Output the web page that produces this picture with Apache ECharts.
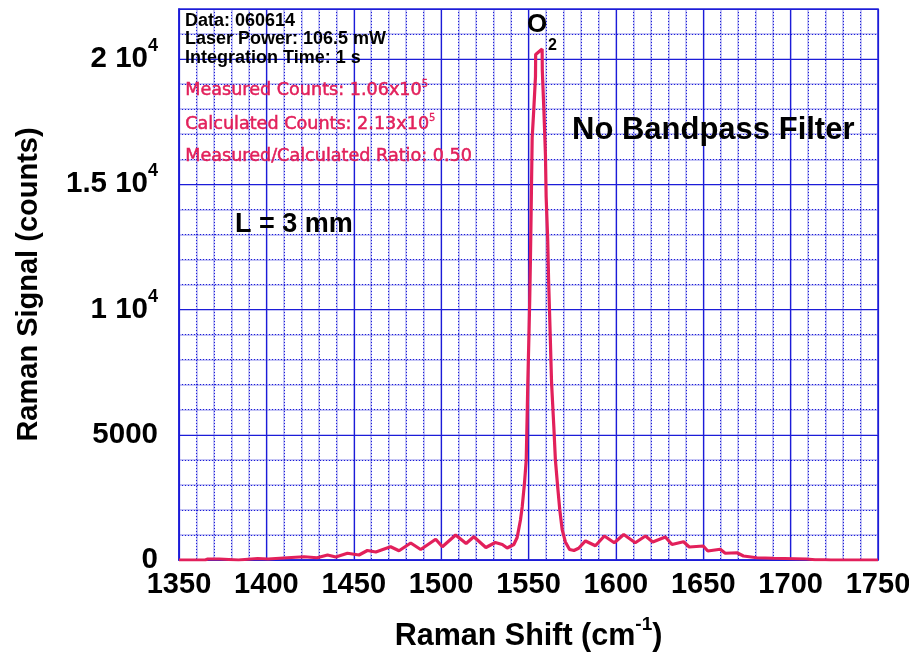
<!DOCTYPE html>
<html>
<head>
<meta charset="utf-8">
<script src="https://cdn.jsdelivr.net/npm/echarts@6/dist/echarts.min.js"></script>
<style>
html, body { margin: 0; padding: 0; background: #fff; }
#chart { width: 909px; height: 655px; }
</style>
</head>
<body>
<div id="chart"></div>
<script>
"use strict";

// spectrum (cm-1, counts)
var ramanShift = [1350, 1365, 1366.5, 1373, 1374, 1384, 1385, 1395, 1401, 1412,
    1421.6, 1429, 1435, 1439.7, 1446.4, 1453, 1457.8, 1462.6, 1471.1, 1475.9,
    1482.6, 1488.3, 1496.9, 1500.7, 1508.3, 1514.3, 1518.7, 1525.6, 1531, 1535,
    1537.8, 1541.6, 1543.5, 1545.4, 1546.4, 1547.7, 1548.7, 1549.3, 1549.6, 1550.2,
    1550.7, 1551.1, 1551.5, 1552.1, 1553, 1554, 1554.1, 1557.8, 1557.9, 1558.8,
    1559.7, 1560.1, 1561, 1561.5, 1562, 1562.5, 1563.2, 1564.5, 1565.4, 1566.7,
    1567.9, 1569.3, 1571.1, 1573.5, 1576, 1578.7, 1582.6, 1588.3, 1593.4, 1599.1,
    1604.5, 1611.1, 1616.9, 1621.1, 1628.3, 1632.1, 1638.7, 1642, 1650, 1652.6,
    1659.7, 1662.6, 1669.3, 1673, 1680.7, 1690.2, 1709, 1714, 1720, 1723, 1750];
var ramanSignal = [0, 0, 40, 40, 0, 0, 50, 60, 40, 90,
    130, 90, 200, 120, 270, 200, 380, 320, 530, 370,
    680, 420, 830, 530, 1000, 660, 930, 500, 700, 620,
    480, 620, 900, 1600, 2120, 3070, 3990, 5990, 7070, 8800,
    10400, 11980, 13860, 16850, 17960, 19300, 20180, 20400, 19560, 17960,
    16170, 14500, 12770, 11170, 10000, 8800, 7070, 5310, 3990, 2920,
    2000, 1200, 720, 420, 380, 470, 760, 570, 960, 690,
    1020, 690, 960, 720, 920, 620, 730, 520, 560, 360,
    430, 270, 290, 160, 90, 70, 40, 10, 10, 0, 0];

// tick labels, ^ marks a superscript
var yTickValues = [0, 5000, 10000, 15000, 20000];
var yTickLabels = ['0', '5000', '1 10^4', '1.5 10^4', '2 10^4'];

var infoLines = ['Data: 060614', 'Laser Power: 106.5 mW', 'Integration Time: 1 s'];
var countLines = ['Measured Counts: 1.06x10^5', 'Calculated Counts: 2.13x10^5', 'Measured/Calculated Ratio: 0.50'];

var BLUE = '#1c1cd8';
var RED = '#e2205b';
var FONT = '"Liberation Sans", Arial, Helvetica, sans-serif';

//把 a^b 变成富文本
function toRich(s, main, sup) {
    var p = s.split('^');
    if (p.length == 1) return '{' + main + '|' + s + '}';
    return '{' + main + '|' + p[0] + '}{' + sup + '|' + p[1] + '}';
}

function gridAxis(kind, interval, lineStyle, z) {
    var ax = {
        type: 'value',
        z: z,
        interval: interval,
        axisLine: { show: false },
        axisTick: { show: false },
        axisLabel: { show: false },
        splitLine: { show: true, lineStyle: lineStyle }
    };
    if (kind == 'x') { ax.min = 1350; ax.max = 1750; }
    else { ax.min = 0; ax.max = 22000; }
    return ax;
}

var chart = echarts.init(document.getElementById('chart'));

var textGraphics = [];
infoLines.forEach(function (t, i) {
    textGraphics.push({
        type: 'text', left: 185, top: 12 + i * 18.3, z: 10,
        style: { text: t, fill: '#000', font: 'bold 18px ' + FONT }
    });
});
countLines.forEach(function (t, i) {
    textGraphics.push({
        type: 'text', left: 185, top: 79 + i * 34.3, z: 10,
        style: {
            text: toRich(t, 'm', 's'),
            rich: {
                m: { fill: RED, stroke: RED, lineWidth: 0.5, fontFamily: 'DejaVu Sans', fontSize: 17.6, lineHeight: 22 },
                s: { fill: RED, stroke: RED, lineWidth: 0.3, fontFamily: 'DejaVu Sans', fontSize: 10, lineHeight: 22, verticalAlign: 'top' }
            }
        }
    });
});
textGraphics.push(
    { type: 'text', left: 235, top: 211, z: 10, style: { text: 'L = 3 mm', fill: '#000', font: 'bold 27px ' + FONT } },
    { type: 'text', left: 572, top: 115, z: 10, style: { text: 'No Bandpass Filter', fill: '#000', font: 'bold 31px ' + FONT } },
    { type: 'text', left: 527, top: 12, z: 10, style: { text: 'O', fill: '#000', font: 'bold 26px ' + FONT } },
    { type: 'text', left: 548, top: 38, z: 10, style: { text: '2', fill: '#000', font: 'bold 16px ' + FONT } }
);

var option = {
    backgroundColor: '#fff',
    animation: false,
    grid: {
        left: 179, right: 31, top: 9, bottom: 95,
        show: true, borderColor: BLUE, borderWidth: 1.5,
        outerBoundsMode: 'none'
    },
    xAxis: [
        {
            type: 'value', min: 1350, max: 1750, interval: 50, z: 3,
            name: '{n|Raman Shift (cm}{s|-1}{n|)}',
            nameLocation: 'middle', nameGap: 55,
            nameTextStyle: {
                rich: {
                    n: { fontFamily: FONT, fontWeight: 'bold', fontSize: 30.5, color: '#000', lineHeight: 44 },
                    s: { fontFamily: FONT, fontWeight: 'bold', fontSize: 19, color: '#000', lineHeight: 44, verticalAlign: 'top' }
                }
            },
            axisLine: { show: true, lineStyle: { color: BLUE, width: 1.5 } },
            axisTick: { show: false },
            axisLabel: {
                margin: 10, color: '#000', fontFamily: FONT, fontWeight: 'bold', fontSize: 29,
                formatter: function (v) { return String(v); }
            },
            splitLine: { show: true, lineStyle: { color: BLUE, width: 1.2 } }
        },
        gridAxis('x', 10, { color: 'rgba(100,100,230,0.38)', width: 2 }, 1),
        gridAxis('x', 10, { color: BLUE, width: 1, type: [1, 2] }, 2)
    ],
    yAxis: [
        {
            type: 'value', min: 0, max: 22000, interval: 5000, z: 3,
            name: 'Raman Signal (counts)',
            nameLocation: 'middle', nameGap: 136, nameRotate: 90,
            nameTextStyle: { fontFamily: FONT, fontWeight: 'bold', fontSize: 29, color: '#000' },
            axisLine: { show: true, lineStyle: { color: BLUE, width: 1.5 } },
            axisTick: { show: false },
            axisLabel: {
                margin: 21,
                formatter: function (v) {
                    var k = yTickValues.indexOf(v);
                    return k < 0 ? '' : toRich(yTickLabels[k], 'm', 's');
                },
                rich: {
                    m: { fontFamily: FONT, fontWeight: 'bold', fontSize: 29.5, color: '#000', lineHeight: 44 },
                    s: { fontFamily: FONT, fontWeight: 'bold', fontSize: 18, color: '#000', lineHeight: 44, verticalAlign: 'top' }
                }
            },
            splitLine: { show: true, lineStyle: { color: BLUE, width: 1.2 } }
        },
        gridAxis('y', 1000, { color: 'rgba(100,100,230,0.38)', width: 2 }, 1),
        gridAxis('y', 1000, { color: BLUE, width: 1, type: [1, 2] }, 2)
    ],
    series: [
        {
            type: 'line',
            xAxisIndex: 0,
            yAxisIndex: 0,
            z: 5,
            showSymbol: false,
            symbol: 'none',
            lineStyle: { color: RED, width: 3.2 },
            data: ramanShift.map(function (x, i) { return [x, ramanSignal[i]]; })
        }
    ],
    graphic: textGraphics
};

chart.setOption(option);
</script>
</body>
</html>
